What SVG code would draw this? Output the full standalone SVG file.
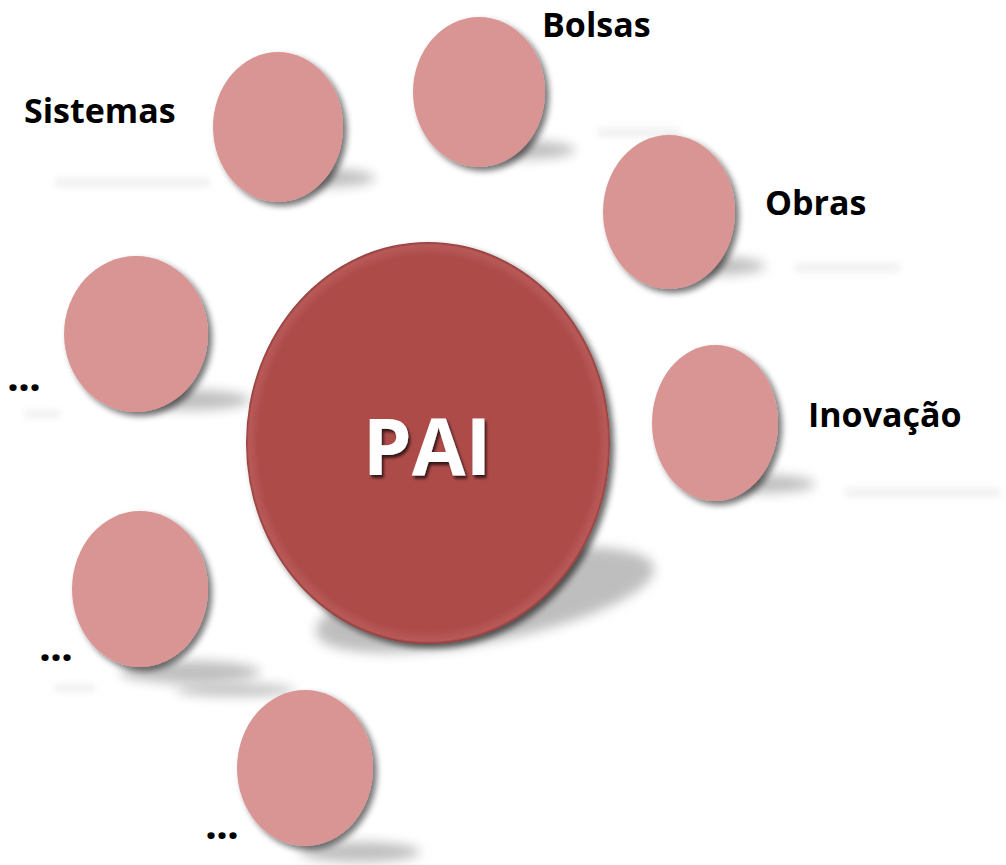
<svg xmlns="http://www.w3.org/2000/svg" width="1006" height="865" viewBox="0 0 1006 865">
<style>
.sat{fill:#D99594}
.lbl{font-family:"Open Sans","Liberation Sans",sans-serif;font-weight:bold;font-size:34px;fill:#000}
.dots{font-family:"Open Sans","Liberation Sans",sans-serif;font-weight:bold;font-size:42px;fill:#000;letter-spacing:-1px}
.pshadow{fill:#8a8a8a;opacity:0.55}
.refl{fill:#d6d6d6;opacity:0.35}
</style>
<defs>
<filter id="ds" x="-20%" y="-20%" width="150%" height="150%">
<feGaussianBlur in="SourceAlpha" stdDeviation="3"/>
<feOffset dx="4" dy="4" result="b"/>
<feComponentTransfer><feFuncA type="linear" slope="0.55"/></feComponentTransfer>
<feMerge><feMergeNode/><feMergeNode in="SourceGraphic"/></feMerge>
</filter>
<filter id="blur" x="-50%" y="-100%" width="200%" height="300%">
<feGaussianBlur stdDeviation="6"/>
</filter>
<filter id="blur2" x="-50%" y="-200%" width="200%" height="500%">
<feGaussianBlur stdDeviation="3.5"/>
</filter>
<filter id="bevel" x="-10%" y="-10%" width="125%" height="125%">
<feGaussianBlur in="SourceAlpha" stdDeviation="3"/>
<feOffset dx="4" dy="4"/>
<feComponentTransfer><feFuncA type="linear" slope="0.6"/></feComponentTransfer>
<feMerge><feMergeNode/><feMergeNode in="SourceGraphic"/></feMerge>
</filter>
<filter id="txtsh" x="-10%" y="-10%" width="130%" height="130%">
<feGaussianBlur in="SourceAlpha" stdDeviation="1.5"/>
<feOffset dx="2" dy="3"/>
<feComponentTransfer><feFuncA type="linear" slope="0.7"/></feComponentTransfer>
<feMerge><feMergeNode/><feMergeNode in="SourceGraphic"/></feMerge>
</filter>
<radialGradient id="rim" cx="50%" cy="50%" r="50%">
<stop offset="0.93" stop-color="#AD4B4A"/>
<stop offset="0.985" stop-color="#B85a58"/>
<stop offset="1" stop-color="#8f3a39"/>
</radialGradient>
</defs>
<rect width="1006" height="865" fill="#fff"/>

<g id="shadows">
<ellipse class="pshadow" cx="485" cy="600" rx="172" ry="42" transform="rotate(-11 485 600)" filter="url(#blur)"/>
<ellipse class="pshadow" cx="325" cy="178" rx="50" ry="9" filter="url(#blur)"/>
<ellipse class="pshadow" cx="525" cy="150" rx="50" ry="9" filter="url(#blur)"/>
<ellipse class="pshadow" cx="715" cy="266" rx="50" ry="9" filter="url(#blur)"/>
<ellipse class="pshadow" cx="765" cy="484" rx="50" ry="9" filter="url(#blur)"/>
<ellipse class="pshadow" cx="190" cy="400" rx="60" ry="10" filter="url(#blur)"/>
<ellipse class="pshadow" cx="190" cy="672" rx="70" ry="11" filter="url(#blur)"/>
<ellipse class="pshadow" cx="360" cy="852" rx="60" ry="10" filter="url(#blur)"/>
<ellipse class="pshadow" cx="235" cy="690" rx="60" ry="6" filter="url(#blur)" opacity="0.3"/>
</g>

<g id="reflections">
<rect class="refl" x="55" y="178" width="155" height="9" filter="url(#blur2)"/>
<rect class="refl" x="598" y="128" width="82" height="9" filter="url(#blur2)"/>
<rect class="refl" x="795" y="263" width="105" height="9" filter="url(#blur2)"/>
<rect class="refl" x="845" y="488" width="155" height="9" filter="url(#blur2)"/>
<rect class="refl" x="25" y="410" width="35" height="8" filter="url(#blur2)" opacity="0.2"/>
<rect class="refl" x="55" y="684" width="40" height="8" filter="url(#blur2)" opacity="0.2"/>
</g>

<g id="connectors"></g>

<g id="node-sistemas">
<ellipse class="sat" cx="278" cy="127" rx="65" ry="75" filter="url(#ds)"/>
<text class="lbl" x="24" y="123">Sistemas</text>
</g>
<g id="node-bolsas">
<ellipse class="sat" cx="479" cy="92" rx="66" ry="75" filter="url(#ds)"/>
<text class="lbl" x="542" y="37">Bolsas</text>
</g>
<g id="node-obras">
<ellipse class="sat" cx="669" cy="212" rx="66" ry="77" filter="url(#ds)"/>
<text class="lbl" x="765" y="215">Obras</text>
</g>
<g id="node-inovacao">
<ellipse class="sat" cx="715" cy="423" rx="63" ry="78" filter="url(#ds)"/>
<text class="lbl" x="808" y="427">Inovação</text>
</g>
<g id="node-etc1">
<ellipse class="sat" cx="136" cy="334" rx="72" ry="78" filter="url(#ds)"/>
<text class="dots" x="7" y="391">...</text>
</g>
<g id="node-etc2">
<ellipse class="sat" cx="140" cy="589" rx="68" ry="78" filter="url(#ds)"/>
<text class="dots" x="39" y="661">...</text>
</g>
<g id="node-etc3">
<ellipse class="sat" cx="305" cy="768" rx="68" ry="78" filter="url(#ds)"/>
<text class="dots" x="205" y="839">...</text>
</g>

<g id="node-pai">
<ellipse cx="428" cy="443" rx="182" ry="201" fill="url(#rim)" filter="url(#bevel)"/>
<text x="427" y="475" text-anchor="middle" font-family="'Open Sans','Liberation Sans',sans-serif" font-weight="bold" font-size="78" fill="#fff" filter="url(#txtsh)">PAI</text>
</g>
</svg>
